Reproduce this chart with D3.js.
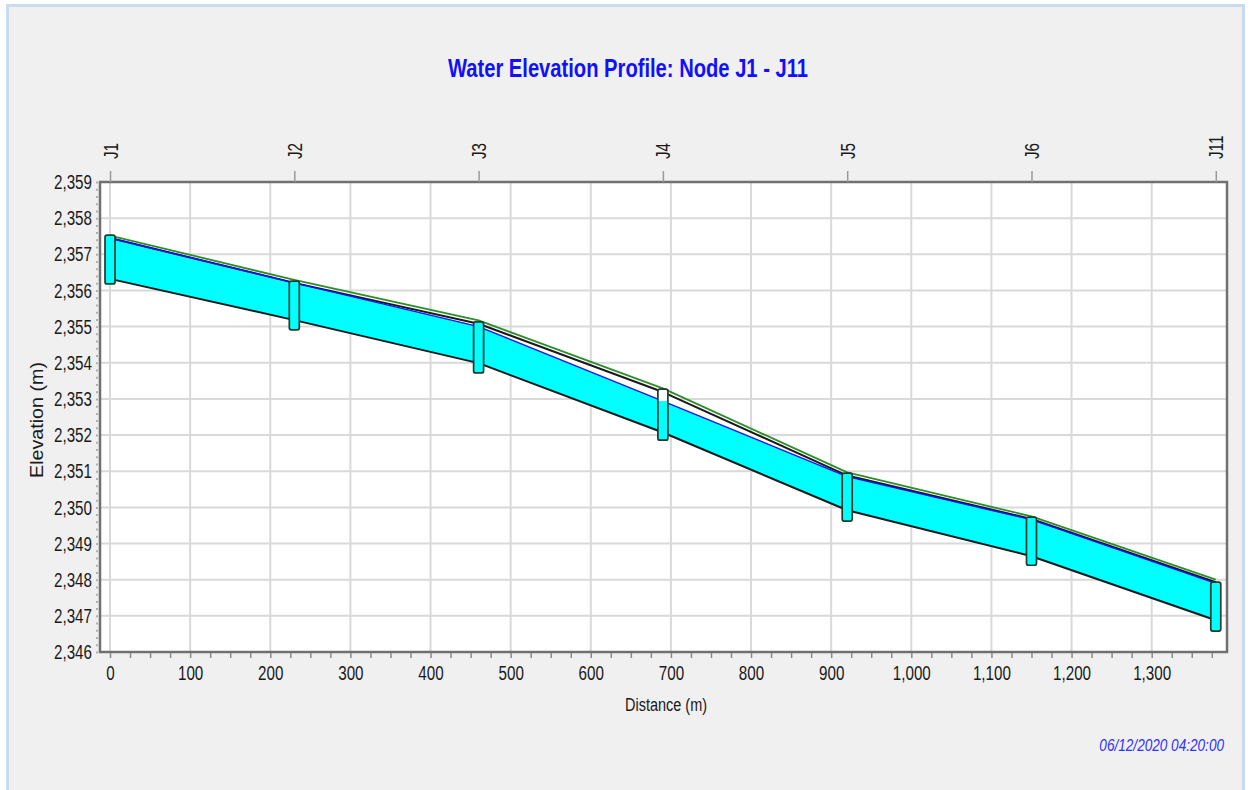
<!DOCTYPE html>
<html>
<head>
<meta charset="utf-8">
<script src="https://cdn.jsdelivr.net/npm/d3@7"></script>
<style>
  body { margin: 0; background: #ffffff; }
  svg { display: block; font-family: "Liberation Sans", Arial, sans-serif; }
</style>
</head>
<body>
<svg id="profile" width="1250" height="790"></svg>
<script>
// node data (distance along the profile, m)
const nodeNames = ["J1", "J2", "J3", "J4", "J5", "J6", "J11"];
const nodeDist = [0, 230, 460, 690, 920, 1150, 1380];
// node box extents and water level inside the node (m)
const nodeTop = [2357.53, 2356.26, 2355.13, 2353.27, 2350.95, 2349.73, 2347.93];
const nodeBottom = [2356.18, 2354.91, 2353.72, 2351.86, 2349.62, 2348.40, 2346.58];
const nodeWater = [2357.53, 2356.26, 2355.13, 2352.94, 2350.95, 2349.73, 2347.93];
// pipe crown / invert, hydraulic grade and energy grade at each node (m)
const pipeCrown = [2357.45, 2356.21, 2355.08, 2353.19, 2350.88, 2349.68, 2347.93];
const pipeInvert = [2356.32, 2355.18, 2353.99, 2352.07, 2349.92, 2348.65, 2346.88];
const hgl = [2357.45, 2356.21, 2355.00, 2352.94, 2350.85, 2349.66, 2347.90];
const egl = [2357.52, 2356.29, 2355.17, 2353.29, 2350.97, 2349.75, 2348.00];
// axis ticks
const xTicks = d3.range(0, 1301, 100);
const xMinorTicks = d3.range(0, 1376, 25);
const yTicks = d3.range(2346, 2360, 1);
const yMinorTicks = d3.range(2346, 2359.01, 0.2);

const title = "Water Elevation Profile: Node J1 - J11";
const xLabel = "Distance (m)";
const yLabel = "Elevation (m)";
const stamp = "06/12/2020 04:20:00";

let svg = d3.select("#profile");
let plotLeft = 100, plotRight = 1227, plotTop = 182, plotBottom = 652;
let sx = 0.78; // tick text is drawn narrow, like the original

let x = d3.scaleLinear().domain([-12.5, 1394]).range([plotLeft, plotRight]);
let y = d3.scaleLinear().domain([2346, 2359]).range([plotBottom, plotTop]);

// panel background
svg.append("rect")
    .attr("x", 7.5).attr("y", 5.5)
    .attr("width", 1236).attr("height", 790)
    .attr("fill", "#f0f0f0")
    .attr("stroke", "#c9dcef")
    .attr("stroke-width", 3);

// plot area
svg.append("rect")
    .attr("x", plotLeft).attr("y", plotTop)
    .attr("width", plotRight - plotLeft).attr("height", plotBottom - plotTop)
    .attr("fill", "#ffffff");

// grid
svg.append("g")
    .selectAll("line")
    .data(xTicks)
    .join("line")
    .attr("x1", d => x(d)).attr("x2", d => x(d))
    .attr("y1", plotTop).attr("y2", plotBottom)
    .attr("stroke", "#d9d9d9")
    .attr("stroke-width", 2);
svg.append("g")
    .selectAll("line")
    .data(yTicks.slice(1, -1))
    .join("line")
    .attr("x1", plotLeft).attr("x2", plotRight)
    .attr("y1", d => y(d)).attr("y2", d => y(d))
    .attr("stroke", "#d9d9d9")
    .attr("stroke-width", 2);

let idx = d3.range(nodeDist.length);

// pipe body: white between invert and crown, cyan up to the water line
let pipeArea = d3.area()
    .x(i => x(nodeDist[i]))
    .y0(i => y(pipeInvert[i]))
    .y1(i => y(pipeCrown[i]));
let waterArea = d3.area()
    .x(i => x(nodeDist[i]))
    .y0(i => y(pipeInvert[i]))
    .y1(i => y(hgl[i]));

svg.append("path").datum(idx).attr("d", pipeArea).attr("fill", "#ffffff");
svg.append("path").datum(idx).attr("d", waterArea).attr("fill", "#00ffff");

function profileLine(values, color, width) {
    let line = d3.line()
        .x(i => x(nodeDist[i]))
        .y(i => y(values[i]));
    svg.append("path")
        .datum(idx)
        .attr("d", line)
        .attr("fill", "none")
        .attr("stroke", color)
        .attr("stroke-width", width)
        .attr("stroke-linejoin", "round");
}

profileLine(egl, "#2a8f2a", 1.8);
profileLine(pipeInvert, "#1a1a1a", 2);
profileLine(pipeCrown, "#1a1a1a", 2);
profileLine(hgl, "#1010ff", 1.4);

// node boxes
let nodes = svg.append("g")
    .selectAll("g")
    .data(idx)
    .join("g");
nodes.append("rect")
    .attr("x", i => x(nodeDist[i]) - 5)
    .attr("y", i => y(nodeTop[i]))
    .attr("width", 10)
    .attr("height", i => y(nodeBottom[i]) - y(nodeTop[i]))
    .attr("fill", "#ffffff");
nodes.append("rect")
    .attr("x", i => x(nodeDist[i]) - 5)
    .attr("y", i => y(nodeWater[i]))
    .attr("width", 10)
    .attr("height", i => y(nodeBottom[i]) - y(nodeWater[i]))
    .attr("fill", "#00ffff");
nodes.append("rect")
    .attr("x", i => x(nodeDist[i]) - 5)
    .attr("y", i => y(nodeTop[i]))
    .attr("width", 10)
    .attr("height", i => y(nodeBottom[i]) - y(nodeTop[i]))
    .attr("rx", 2)
    .attr("fill", "none")
    .attr("stroke", "#1e3b2c")
    .attr("stroke-width", 1.7);

// frame
svg.append("rect")
    .attr("x", plotLeft).attr("y", plotTop)
    .attr("width", plotRight - plotLeft).attr("height", plotBottom - plotTop)
    .attr("fill", "none")
    .attr("stroke", "#707070")
    .attr("stroke-width", 2.5);

// left axis
let yMinor = svg.append("g")
    .attr("transform", "translate(" + (plotLeft - 2) + ",0)")
    .call(d3.axisLeft(y).tickValues(yMinorTicks).tickSize(2).tickFormat(""));
yMinor.select(".domain").remove();
yMinor.selectAll("line").attr("stroke", "#b0b0b0").attr("stroke-width", 2);

let yAxis = svg.append("g")
    .attr("transform", "translate(" + (plotLeft - 2) + ",0)")
    .call(d3.axisLeft(y).tickValues(yTicks).tickSize(0).tickFormat(d3.format(",")));
yAxis.select(".domain").remove();
yAxis.selectAll("text")
    .attr("x", 0)
    .attr("dy", "0.34em")
    .attr("transform", "translate(-6,0) scale(" + sx + ",1)")
    .attr("fill", "#1a1a1a")
    .style("font-size", "19.5px");

// bottom axis
let xMinor = svg.append("g")
    .attr("transform", "translate(0," + (plotBottom + 1) + ")")
    .call(d3.axisBottom(x).tickValues(xMinorTicks).tickSize(5).tickFormat(""));
xMinor.select(".domain").remove();
xMinor.selectAll("line").attr("stroke", "#8a8a8a").attr("stroke-width", 1.5);

let xAxis = svg.append("g")
    .attr("transform", "translate(0," + plotBottom + ")")
    .call(d3.axisBottom(x).tickValues(xTicks).tickSize(0).tickFormat(d3.format(",")));
xAxis.select(".domain").remove();
xAxis.selectAll("text")
    .attr("y", 14)
    .attr("transform", "scale(" + sx + ",1)")
    .attr("fill", "#1a1a1a")
    .style("font-size", "19.5px");

// top axis with node names
let topAxis = svg.append("g")
    .attr("transform", "translate(0," + plotTop + ")")
    .call(d3.axisTop(x).tickValues(nodeDist).tickSize(11).tickFormat((d, i) => nodeNames[i]));
topAxis.select(".domain").remove();
topAxis.selectAll("line").attr("stroke", "#9a9a9a").attr("stroke-width", 1.5);
topAxis.selectAll("text")
    .attr("x", 0).attr("y", 0).attr("dy", null)
    .attr("text-anchor", "start")
    .attr("transform", "translate(7,-23) rotate(-90) scale(" + sx + ",1)")
    .attr("fill", "#1a1a1a")
    .style("font-size", "19.5px");

// titles
svg.append("text")
    .attr("x", 628).attr("y", 77)
    .attr("text-anchor", "middle")
    .attr("textLength", 360)
    .attr("lengthAdjust", "spacingAndGlyphs")
    .attr("fill", "#1010ff")
    .style("font-size", "26px")
    .style("font-weight", "bold")
    .text(title);

svg.append("text")
    .attr("x", 666).attr("y", 711)
    .attr("text-anchor", "middle")
    .attr("textLength", 82)
    .attr("lengthAdjust", "spacingAndGlyphs")
    .attr("fill", "#1a1a1a")
    .style("font-size", "18px")
    .text(xLabel);

svg.append("text")
    .attr("transform", "translate(43,420) rotate(-90)")
    .attr("text-anchor", "middle")
    .attr("textLength", 116)
    .attr("lengthAdjust", "spacingAndGlyphs")
    .attr("fill", "#1a1a1a")
    .style("font-size", "18px")
    .text(yLabel);

svg.append("text")
    .attr("transform", "translate(1224,751) scale(0.8,1)")
    .attr("text-anchor", "end")
    .attr("fill", "#3030ff")
    .style("font-size", "17px")
    .style("font-style", "italic")
    .text(stamp);
</script>
</body>
</html>
